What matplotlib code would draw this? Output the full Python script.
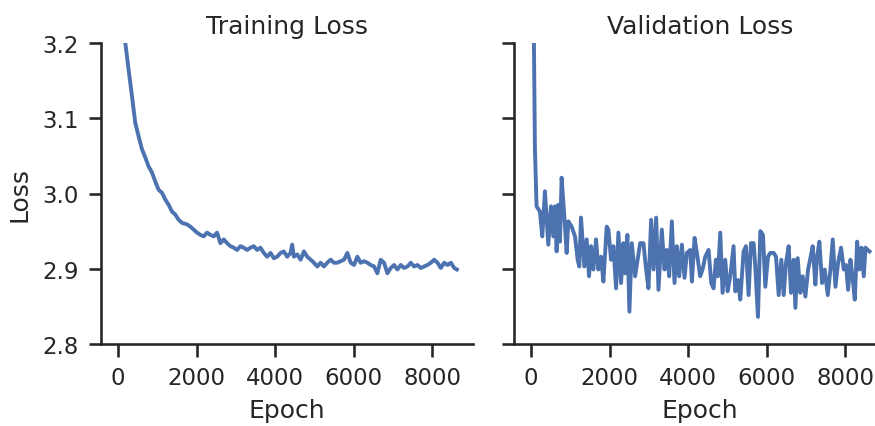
import numpy as np
import matplotlib
matplotlib.use("Agg")
from matplotlib import pyplot as plt

# Training loss (epoch, loss)
trainEpochs = [0, 100, 186, 271, 356, 441, 526, 611, 696, 780, 865, 950,
               1035, 1120, 1205, 1290, 1375, 1460, 1545, 1630, 1757, 1842,
               1927, 2012, 2097, 2182, 2267, 2352, 2437, 2521, 2606, 2691,
               2776, 2861, 2946, 3031, 3116, 3201, 3286, 3371, 3456, 3541,
               3626, 3711, 3796, 3881, 3965, 4050, 4135, 4220, 4305, 4390,
               4432, 4475, 4560, 4645, 4730, 4815, 4900, 4985, 5070, 5155,
               5239, 5324, 5409, 5494, 5579, 5664, 5749, 5834, 5919, 6004,
               6089, 6174, 6259, 6344, 6429, 6514, 6598, 6683, 6768, 6853,
               6938, 7023, 7108, 7193, 7278, 7363, 7447, 7532, 7617, 7702,
               7787, 7872, 7957, 8042, 8127, 8212, 8297, 8382, 8467, 8552,
               8620]
trainLoss = [3.45, 3.26, 3.201, 3.165, 3.130, 3.094, 3.076, 3.059, 3.048,
             3.036, 3.028, 3.016, 3.005, 3.001, 2.992, 2.985, 2.976, 2.972,
             2.965, 2.961, 2.959, 2.956, 2.952, 2.948, 2.945, 2.943, 2.948,
             2.945, 2.943, 2.948, 2.934, 2.939, 2.934, 2.930, 2.928, 2.925,
             2.930, 2.928, 2.925, 2.928, 2.930, 2.925, 2.928, 2.921, 2.916,
             2.921, 2.914, 2.916, 2.921, 2.923, 2.916, 2.921, 2.932, 2.916,
             2.919, 2.912, 2.923, 2.916, 2.912, 2.908, 2.903, 2.908, 2.903,
             2.908, 2.912, 2.908, 2.908, 2.910, 2.912, 2.921, 2.908, 2.905,
             2.916, 2.908, 2.910, 2.908, 2.905, 2.903, 2.894, 2.912, 2.908,
             2.894, 2.901, 2.905, 2.899, 2.905, 2.901, 2.903, 2.908, 2.903,
             2.905, 2.901, 2.903, 2.905, 2.908, 2.912, 2.908, 2.901, 2.908,
             2.905, 2.908, 2.901, 2.899]

# Validation loss (epoch, loss)
valEpochs = [0, 50, 102, 144, 229, 289, 357, 442, 510, 569, 611, 654, 696,
             739, 781, 849, 909, 951, 1036, 1121, 1189, 1231, 1274, 1359,
             1418, 1478, 1529, 1588, 1656, 1715, 1783, 1843, 1928, 1970,
             2038, 2098, 2166, 2225, 2293, 2352, 2395, 2454, 2505, 2565,
             2650, 2777, 2862, 2921, 2989, 3057, 3117, 3185, 3244, 3329,
             3397, 3457, 3516, 3584, 3652, 3711, 3771, 3839, 3907, 3966,
             4051, 4094, 4162, 4221, 4305, 4365, 4433, 4518, 4586, 4645,
             4704, 4755, 4815, 4874, 4942, 5002, 5069, 5154, 5197, 5265,
             5324, 5409, 5468, 5536, 5596, 5664, 5706, 5774, 5834, 5901,
             5961, 6029, 6088, 6173, 6233, 6301, 6368, 6428, 6487, 6555,
             6615, 6683, 6725, 6784, 6852, 6912, 6980, 7048, 7107, 7166,
             7234, 7277, 7336, 7404, 7472, 7549, 7616, 7676, 7744, 7812,
             7888, 7956, 8015, 8066, 8126, 8168, 8236, 8296, 8355, 8406,
             8465, 8508, 8567, 8610]
valLoss = [3.60, 3.35, 3.059, 2.983, 2.976, 2.943, 3.003, 2.932, 2.983,
           2.943, 2.983, 2.923, 2.985, 2.936, 3.021, 2.970, 2.921, 2.963,
           2.956, 2.943, 2.912, 2.903, 2.968, 2.903, 2.939, 2.890, 2.930,
           2.899, 2.939, 2.899, 2.916, 2.883, 2.956, 2.952, 2.912, 2.930,
           2.874, 2.948, 2.881, 2.934, 2.894, 2.945, 2.843, 2.934, 2.890,
           2.934, 2.934, 2.903, 2.874, 2.965, 2.899, 2.968, 2.872, 2.952,
           2.899, 2.925, 2.890, 2.963, 2.881, 2.930, 2.890, 2.932, 2.888,
           2.921, 2.925, 2.883, 2.941, 2.921, 2.890, 2.899, 2.916, 2.925,
           2.881, 2.874, 2.912, 2.890, 2.948, 2.868, 2.912, 2.870, 2.890,
           2.930, 2.870, 2.885, 2.859, 2.923, 2.930, 2.865, 2.934, 2.934,
           2.903, 2.836, 2.950, 2.945, 2.876, 2.916, 2.921, 2.921, 2.916,
           2.865, 2.912, 2.865, 2.908, 2.930, 2.868, 2.912, 2.848, 2.914,
           2.868, 2.890, 2.863, 2.899, 2.914, 2.930, 2.879, 2.916, 2.936,
           2.881, 2.899, 2.865, 2.899, 2.939, 2.876, 2.908, 2.928, 2.899,
           2.905, 2.872, 2.912, 2.894, 2.859, 2.936, 2.899, 2.928, 2.890,
           2.928, 2.925, 2.923]

titles = ["Training Loss", "Validation Loss"]
yTicks = [2.8, 2.9, 3.0, 3.1, 3.2]
xTicks = [0, 2000, 4000, 6000, 8000]

# Seaborn "talk" + "ticks" look, done by hand
dark = "#262626"
plt.rcParams.update({
    "font.family": "DejaVu Sans",
    "axes.titlesize": 18,
    "axes.labelsize": 18,
    "xtick.labelsize": 16.5,
    "ytick.labelsize": 16.5,
    "axes.linewidth": 1.875,
    "xtick.major.width": 1.875,
    "ytick.major.width": 1.875,
    "xtick.major.size": 9,
    "ytick.major.size": 9,
    "xtick.major.pad": 7,
    "ytick.major.pad": 7,
    "axes.labelpad": 6,
    "axes.titlepad": 7,
    "axes.edgecolor": dark,
    "axes.labelcolor": dark,
    "text.color": dark,
    "xtick.color": dark,
    "ytick.color": dark,
    "lines.linewidth": 2.8,
})

fig = plt.figure(figsize=(8.75, 4.27), dpi=100)
ax1 = fig.add_axes([101 / 875, 82 / 427, 372 / 875, 301 / 427])
ax2 = fig.add_axes([514 / 875, 82 / 427, 372 / 875, 301 / 427])

ax1.plot(trainEpochs, trainLoss, color="#4c72b0")
ax2.plot(valEpochs, valLoss, color="#4c72b0")

for ax, title in zip([ax1, ax2], titles):
    ax.set_title(title)
    ax.set_xlabel("Epoch")
    ax.set_xlim(-430, 9030)
    ax.set_ylim(2.8, 3.2)
    ax.set_xticks(xTicks)
    ax.set_yticks(yTicks)
    ax.spines["top"].set_visible(False)
    ax.spines["right"].set_visible(False)

ax1.set_ylabel("Loss", labelpad=8)
ax2.set_yticklabels([])

fig.savefig("out.png", dpi=100)
